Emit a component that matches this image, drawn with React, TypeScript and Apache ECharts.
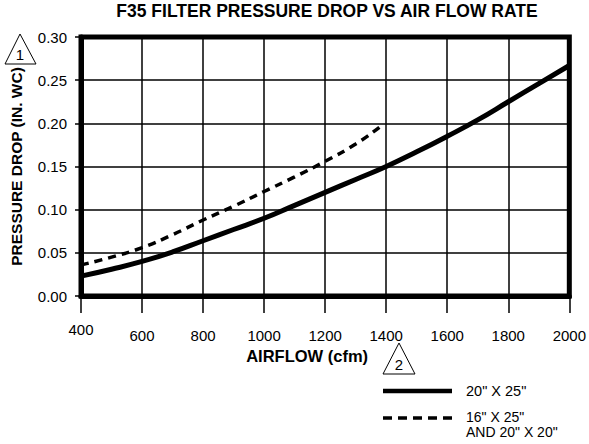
import React, { useEffect, useRef } from "react";
import * as echarts from "echarts";

const xTicks = [400, 600, 800, 1000, 1200, 1400, 1600, 1800, 2000];
const yTicks = [0, 0.05, 0.1, 0.15, 0.2, 0.25, 0.3];

const solidName = '20" X 25"';
const solidX = [400, 500, 600, 700, 800, 900, 1000, 1100, 1200, 1300, 1400, 1500, 1600, 1700, 1800, 1900, 2000];
const solidY = [0.023, 0.031, 0.04, 0.051, 0.064, 0.077, 0.09, 0.105, 0.12, 0.135, 0.15, 0.167, 0.185, 0.204, 0.225, 0.246, 0.267];

const dashedNameLines = ['16" X 25"', 'AND 20" X 20"'];
const dashedX = [400, 500, 600, 700, 800, 900, 1000, 1100, 1200, 1300, 1380];
const dashedY = [0.036, 0.045, 0.056, 0.071, 0.088, 0.104, 0.121, 0.138, 0.156, 0.176, 0.196];

const FONT = "'Liberation Sans', Arial, Helvetica, sans-serif";

export default function App() {
  const ref = useRef<HTMLDivElement>(null);
  useEffect(() => {
    if (!ref.current) return;
    const chart = echarts.init(ref.current, null, { renderer: "svg" });
    const zip = (xs: number[], ys: number[]) => xs.map((x, i) => [x, ys[i]]);
    chart.setOption({
      animation: false,
      backgroundColor: "#fff",
      textStyle: { fontFamily: FONT, color: "#000" },
      title: {
        text: "F35 FILTER PRESSURE DROP VS AIR FLOW RATE",
        left: 322,
        top: -3,
        textAlign: "center",
        textStyle: { fontFamily: FONT, fontSize: 17.5, fontWeight: "bold", color: "#000" },
      },
      grid: {
        left: 81,
        right: 17,
        top: 37,
        bottom: 148,
        show: true,
        borderColor: "#000",
        borderWidth: 5,
        containLabel: false,
      },
      xAxis: {
        type: "value",
        min: xTicks[0],
        max: xTicks[xTicks.length - 1],
        interval: 200,
        name: "AIRFLOW (cfm)",
        nameLocation: "middle",
        nameGap: 49,
        nameTextStyle: { fontFamily: FONT, fontSize: 16.5, fontWeight: "bold", color: "#000", padding: [0, 36, 0, 0] },
        axisLine: { show: true, lineStyle: { color: "#000", width: 5 } },
        axisTick: { show: true, length: 17, inside: false, lineStyle: { color: "#000", width: 1.5 } },
        splitLine: { show: true, lineStyle: { color: "#000", width: 1.5 } },
        axisLabel: {
          margin: 26,
          fontFamily: FONT,
          fontSize: 15,
          color: "#000",
          formatter: (v: number, i: number) => (i === 0 ? `{u|${v}}` : `{n|${v}}`),
          rich: {
            u: { fontFamily: FONT, fontSize: 15, color: "#000", padding: [0, 0, 0, 0] },
            n: { fontFamily: FONT, fontSize: 15, color: "#000", padding: [6, 0, 0, 0] },
          },
        },
      },
      yAxis: {
        type: "value",
        min: yTicks[0],
        max: yTicks[yTicks.length - 1],
        interval: 0.05,
        name: "PRESSURE DROP (IN. WC)",
        nameLocation: "middle",
        nameGap: 57,
        nameRotate: 90,
        nameTextStyle: { fontFamily: FONT, fontSize: 15.5, fontWeight: "bold", color: "#000" },
        axisLine: { show: true, lineStyle: { color: "#000", width: 5 } },
        axisTick: { show: true, length: 6, inside: false, lineStyle: { color: "#000", width: 1.5 } },
        splitLine: { show: true, lineStyle: { color: "#000", width: 1.5 } },
        axisLabel: {
          margin: 14,
          fontFamily: FONT,
          fontSize: 15,
          color: "#000",
          formatter: (v: number) => v.toFixed(2),
        },
      },
      series: [
        {
          name: solidName,
          type: "line",
          data: zip(solidX, solidY),
          smooth: true,
          symbol: "none",
          lineStyle: { color: "#000", width: 5 },
          z: 5,
        },
        {
          name: dashedNameLines.join(" "),
          type: "line",
          data: zip(dashedX, dashedY),
          smooth: true,
          symbol: "none",
          lineStyle: { color: "#000", width: 3.5, type: [8, 6] },
          z: 5,
        },
      ],
      graphic: [
        {
          type: "polygon",
          shape: { points: [[20, 34], [5, 64], [36, 64]] },
          style: { fill: "#fff", stroke: "#000", lineWidth: 1 },
        },
        {
          type: "text",
          x: 20,
          y: 54,
          style: { text: "1", fontFamily: FONT, fontSize: 15, fill: "#000", align: "center", verticalAlign: "middle" },
        },
        {
          type: "polygon",
          shape: { points: [[399, 343], [383, 374], [415, 374]] },
          style: { fill: "#fff", stroke: "#000", lineWidth: 1 },
        },
        {
          type: "text",
          x: 399,
          y: 364,
          style: { text: "2", fontFamily: FONT, fontSize: 15, fill: "#000", align: "center", verticalAlign: "middle" },
        },
        {
          type: "line",
          shape: { x1: 383, y1: 391, x2: 452, y2: 391 },
          style: { stroke: "#000", lineWidth: 4.5 },
        },
        {
          type: "text",
          x: 466,
          y: 391,
          style: { text: solidName, fontFamily: FONT, fontSize: 14.5, fill: "#000", verticalAlign: "middle" },
        },
        {
          type: "line",
          shape: { x1: 383, y1: 418, x2: 452, y2: 418 },
          style: { stroke: "#000", lineWidth: 3.5, lineDash: [9, 6] },
        },
        {
          type: "text",
          x: 466,
          y: 417,
          style: { text: dashedNameLines[0], fontFamily: FONT, fontSize: 14, fill: "#000", verticalAlign: "middle" },
        },
        {
          type: "text",
          x: 466,
          y: 432,
          style: { text: dashedNameLines[1], fontFamily: FONT, fontSize: 14, fill: "#000", verticalAlign: "middle" },
        },
      ],
    });
    return () => chart.dispose();
  }, []);
  return <div ref={ref} style={{ width: 589, height: 444, position: "absolute", left: 0, top: 0 }} />;
}
